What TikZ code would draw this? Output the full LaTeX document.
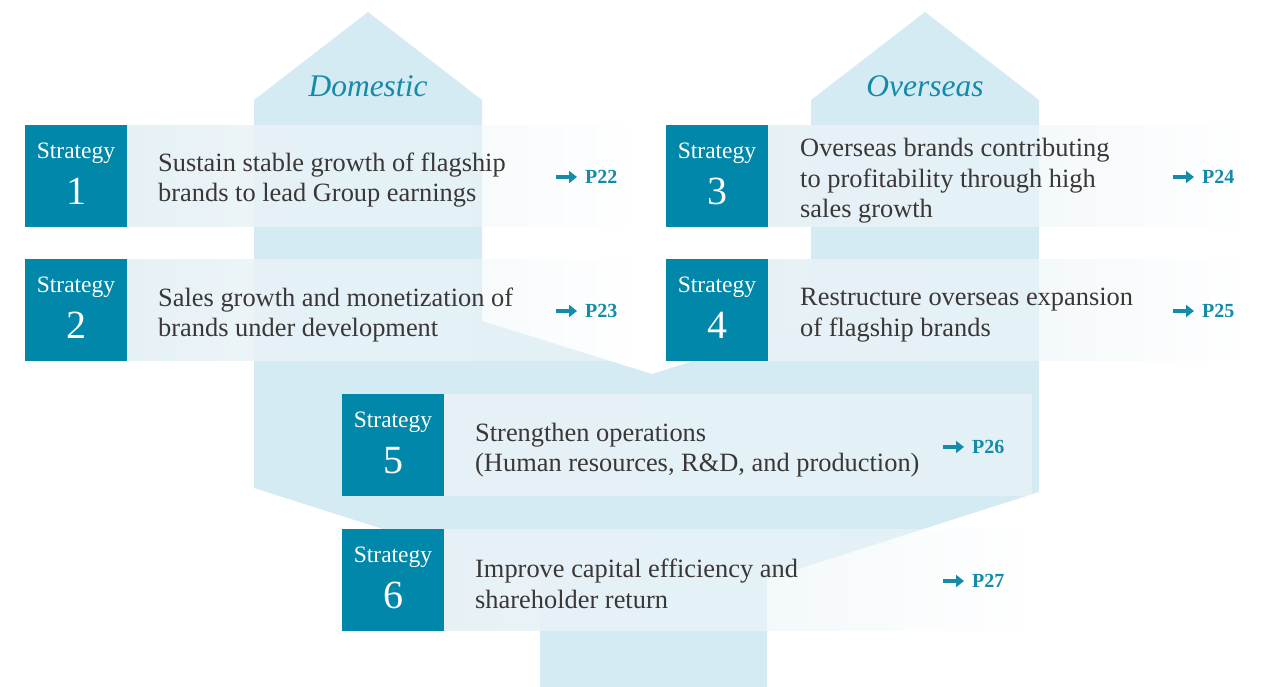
\documentclass[tikz,border=0pt]{standalone}
\usepackage{fontspec}
\setmainfont{Liberation Serif}
\usetikzlibrary{arrows.meta,fadings}

\definecolor{colblue}{HTML}{D4EBF3}
\definecolor{boxteal}{HTML}{0087A9}
\definecolor{ink}{HTML}{3B3737}
\definecolor{linkteal}{HTML}{168AA9}
\definecolor{bandtint}{HTML}{E6F1F6}

\tikzfading[name=bandfade, left color=transparent!0, right color=transparent!100]

\tikzset{
  stratbox/.style={fill=boxteal, minimum width=102pt, minimum height=102pt, inner sep=0pt},
  stratword/.style={text=white, inner sep=0pt, anchor=base, font=\fontsize{23.5}{23.5}\selectfont},
  stratnum/.style={text=white, inner sep=0pt, anchor=base, font=\fontsize{40}{40}\selectfont},
  bodytext/.style={text=ink, inner sep=0pt, anchor=west, align=left, font=\fontsize{26.4}{30.5}\selectfont},
  pageref/.style={text=linkteal, inner sep=0pt, anchor=west, font=\bfseries\fontsize{20}{20}\selectfont},
  linkarrow/.style={draw=linkteal, line width=4pt, -{Triangle[length=8pt,width=12pt]}},
  heading/.style={text=linkteal, inner sep=0pt, font=\itshape\fontsize{31.5}{31.5}\selectfont},
  bandwash/.style={fill=white, fill opacity=0.35},
  bandshade/.style={fill=bandtint, path fading=bandfade},
}

\begin{document}
\begin{tikzpicture}[x=1pt,y=-1pt]
\useasboundingbox (0,0) rectangle (1271,687);

% the two upward arrows merging into one stem
\fill[colblue] (254,100) -- (368,12) -- (482,100) -- (482,321) -- (652,374)
  -- (811,324) -- (811,100) -- (925,12) -- (1039,100) -- (1039,492)
  -- (767,579) -- (767,687) -- (540,687) -- (540,579) -- (254,488) -- cycle;

\node[heading] (dom) at (368,86) {Domestic};
\node[heading] (ovs) at (925,86) {Overseas};

% strategy boxes
\node[stratbox] (s1) at (76,176) {};
\node[stratbox] (s2) at (76,310) {};
\node[stratbox] (s3) at (717,176) {};
\node[stratbox] (s4) at (717,310) {};
\node[stratbox] (s5) at (393,445) {};
\node[stratbox] (s6) at (393,580) {};

% fading bands behind the descriptions
\foreach \b/\len in {s1/513, s2/513, s3/482, s4/482, s5/588, s6/588}{
  \fill[bandwash] (\b.north east) rectangle ([xshift=\len pt]\b.south east);
  \fill[bandshade] (\b.north east) rectangle ([xshift=\len pt]\b.south east);
}

% box labels
\node[stratword] (w1) at ([yshift=-34pt]s1.north) {Strategy};
\node[stratnum] (n1) at ([yshift=-80pt]s1.north) {1};
\node[stratword] (w2) at ([yshift=-34pt]s2.north) {Strategy};
\node[stratnum] (n2) at ([yshift=-80pt]s2.north) {2};
\node[stratword] (w3) at ([yshift=-34pt]s3.north) {Strategy};
\node[stratnum] (n3) at ([yshift=-80pt]s3.north) {3};
\node[stratword] (w4) at ([yshift=-34pt]s4.north) {Strategy};
\node[stratnum] (n4) at ([yshift=-80pt]s4.north) {4};
\node[stratword] (w5) at ([yshift=-34pt]s5.north) {Strategy};
\node[stratnum] (n5) at ([yshift=-80pt]s5.north) {5};
\node[stratword] (w6) at ([yshift=-34pt]s6.north) {Strategy};
\node[stratnum] (n6) at ([yshift=-80pt]s6.north) {6};

% descriptions
\node[bodytext] (t1) at (158,180) {Sustain stable growth of flagship\\brands to lead Group earnings};
\node[bodytext] (t2) at (158,315) {Sales growth and monetization of\\brands under development};
\node[bodytext] (t3) at (800,181) {Overseas brands contributing\\to profitability through high\\sales growth};
\node[bodytext] (t4) at (800,315) {Restructure overseas expansion\\of flagship brands};
\node[bodytext] (t5) at (475,450) {Strengthen operations\\(Human resources, R\&D, and production)};
\node[bodytext] (t6) at (475,584) {Improve capital efficiency and\\shareholder return};

% page references
\node[pageref] (p1) at (585,177) {P22};
\node[pageref] (p2) at (585,311) {P23};
\node[pageref] (p3) at (1202,177) {P24};
\node[pageref] (p4) at (1202,311) {P25};
\node[pageref] (p5) at (972,447) {P26};
\node[pageref] (p6) at (972,581) {P27};
\foreach \p in {p1,p2,p3,p4,p5,p6}{
  \draw[linkarrow] ([xshift=-29pt]\p.west) -- ([xshift=-8pt]\p.west);
}
\end{tikzpicture}
\end{document}
